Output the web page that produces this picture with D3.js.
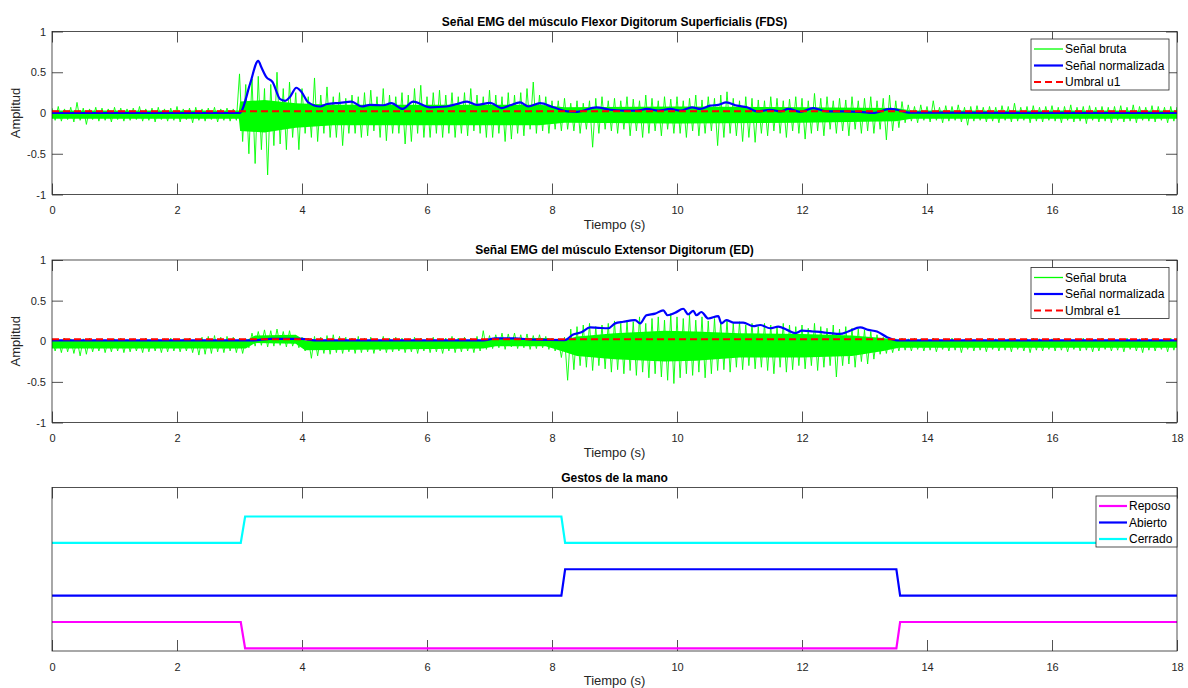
<!DOCTYPE html>
<html><head><meta charset="utf-8">
<script src="https://cdn.jsdelivr.net/npm/d3@7"></script>
<style>
body{margin:0;background:#fff}
svg{display:block}
text{font-family:"Liberation Sans",Arial,Helvetica,sans-serif}
</style>
</head><body>
<svg id="chart" width="1188" height="688"></svg>
<script>
// ---------- DATA ----------
const timeTicks = [0, 2, 4, 6, 8, 10, 12, 14, 16, 18];
const ampTicks = [-1, -0.5, 0, 0.5, 1];
const rawStep = 0.1;  // seconds between envelope readings of the raw trace

// FDS raw signal: local maxima / minima per 0.1 s window
const fdsRawHigh = [
  0.06,0.08,0.05,0.07,0.13,0.06,0.05,0.07,0.06,0.05,
  0.07,0.06,0.05,0.06,0.08,0.05,0.06,0.07,0.05,0.06,
  0.08,0.05,0.06,0.07,0.05,0.06,0.07,0.05,0.06,0.05,
  0.48,0.35,0.42,0.45,0.30,0.35,0.50,0.30,0.38,0.25,
  0.30,0.20,0.43,0.22,0.32,0.20,0.25,0.18,0.22,0.20,
  0.25,0.28,0.20,0.30,0.22,0.20,0.25,0.22,0.30,0.34,
  0.20,0.25,0.28,0.22,0.25,0.20,0.25,0.30,0.22,0.20,
  0.28,0.22,0.20,0.25,0.22,0.25,0.30,0.38,0.22,0.20,
  0.15,0.15,0.18,0.12,0.15,0.12,0.15,0.18,0.20,0.15,
  0.18,0.15,0.20,0.17,0.15,0.22,0.18,0.15,0.20,0.17,
  0.20,0.15,0.18,0.22,0.16,0.20,0.18,0.22,0.26,0.18,
  0.15,0.20,0.18,0.16,0.15,0.20,0.18,0.15,0.17,0.20,
  0.18,0.15,0.24,0.18,0.20,0.15,0.18,0.16,0.20,0.15,
  0.18,0.20,0.15,0.18,0.22,0.15,0.14,0.10,0.08,0.10,
  0.08,0.15,0.07,0.09,0.08,0.10,0.07,0.08,0.09,0.07,
  0.08,0.07,0.09,0.08,0.12,0.07,0.08,0.09,0.07,0.08,
  0.09,0.07,0.08,0.10,0.07,0.08,0.09,0.07,0.08,0.07,
  0.08,0.09,0.07,0.10,0.08,0.07,0.09,0.08,0.07,0.08,
  0.07
];
const fdsRawLow = [
  -0.09,-0.10,-0.08,-0.11,-0.09,-0.14,-0.08,-0.10,-0.09,-0.11,
  -0.08,-0.10,-0.09,-0.08,-0.10,-0.09,-0.11,-0.08,-0.10,-0.09,
  -0.11,-0.08,-0.12,-0.09,-0.10,-0.08,-0.11,-0.09,-0.10,-0.09,
  -0.35,-0.50,-0.62,-0.45,-0.76,-0.40,-0.38,-0.45,-0.30,-0.45,
  -0.25,-0.30,-0.35,-0.25,-0.30,-0.30,-0.40,-0.25,-0.25,-0.30,
  -0.28,-0.22,-0.30,-0.34,-0.25,-0.25,-0.38,-0.35,-0.25,-0.30,
  -0.30,-0.25,-0.30,-0.25,-0.30,-0.25,-0.28,-0.22,-0.25,-0.30,
  -0.30,-0.25,-0.35,-0.32,-0.25,-0.28,-0.20,-0.25,-0.22,-0.25,
  -0.20,-0.22,-0.20,-0.22,-0.25,-0.20,-0.42,-0.25,-0.20,-0.22,
  -0.25,-0.20,-0.28,-0.22,-0.30,-0.25,-0.22,-0.28,-0.20,-0.25,
  -0.25,-0.30,-0.22,-0.28,-0.25,-0.22,-0.40,-0.30,-0.25,-0.28,
  -0.35,-0.30,-0.36,-0.25,-0.28,-0.22,-0.25,-0.30,-0.22,-0.25,
  -0.32,-0.25,-0.22,-0.28,-0.20,-0.25,-0.22,-0.28,-0.20,-0.25,
  -0.22,-0.25,-0.20,-0.33,-0.22,-0.18,-0.12,-0.10,-0.12,-0.09,
  -0.11,-0.09,-0.12,-0.10,-0.09,-0.11,-0.15,-0.10,-0.09,-0.11,
  -0.10,-0.12,-0.09,-0.11,-0.10,-0.09,-0.12,-0.10,-0.11,-0.09,
  -0.10,-0.12,-0.09,-0.11,-0.10,-0.13,-0.09,-0.11,-0.10,-0.12,
  -0.09,-0.11,-0.10,-0.12,-0.09,-0.10,-0.11,-0.09,-0.12,-0.10,
  -0.10
];
// FDS dense core band of the raw trace
const fdsCoreTime = [0, 2.99, 3.01, 3.4, 3.9, 4.5, 6.0, 7.8, 8.2, 10.0, 12.0, 13.5, 13.75, 18];
const fdsCoreHigh = [0.03, 0.03, 0.14, 0.16, 0.12, 0.10, 0.10, 0.10, 0.07, 0.08, 0.07, 0.06, 0.03, 0.03];
const fdsCoreLow  = [-0.07, -0.07, -0.22, -0.24, -0.18, -0.15, -0.15, -0.15, -0.12, -0.13, -0.12, -0.10, -0.07, -0.07];
const fdsNormTime = [0,3.0,3.03,3.17,3.30,3.35,3.43,3.53,3.65,3.73,3.81,3.91,3.99,4.10,4.29,4.40,4.61,4.79,4.96,5.09,5.30,5.43,5.61,5.78,6.05,6.31,6.48,6.64,6.80,7.01,7.19,7.33,7.49,7.62,7.81,8.02,8.24,8.40,8.71,8.93,9.14,9.36,9.52,9.70,9.89,10.05,10.24,10.37,10.53,10.66,10.79,10.96,11.12,11.28,11.49,11.65,11.78,11.97,12.18,12.40,12.66,12.93,13.14,13.41,13.52,13.70,18];
const fdsNormValue = [0.0,0.0,0.02,0.36,0.64,0.56,0.44,0.38,0.17,0.15,0.20,0.31,0.26,0.13,0.08,0.11,0.125,0.14,0.08,0.10,0.095,0.12,0.05,0.14,0.07,0.08,0.11,0.14,0.10,0.125,0.06,0.095,0.13,0.08,0.12,0.07,0.02,0.015,0.07,0.04,0.03,0.03,0.05,0.03,0.05,0.03,0.07,0.05,0.09,0.10,0.13,0.09,0.07,0.02,0.04,0.02,0.05,0.015,0.06,0.02,0.02,0.015,0.0,0.05,0.04,0.005,0.0];
const fdsThreshold = 0.02;

// ED raw signal
const edRawHigh = [
  0.03,0.02,0.04,0.03,0.02,0.03,0.04,0.02,0.03,0.02,
  0.03,0.04,0.02,0.03,0.02,0.04,0.03,0.02,0.03,0.04,
  0.02,0.03,0.04,0.03,0.05,0.06,0.07,0.05,0.06,0.05,
  0.04,0.03,0.10,0.12,0.14,0.13,0.15,0.12,0.13,0.06,
  0.05,0.04,0.06,0.05,0.07,0.08,0.06,0.05,0.04,0.06,
  0.04,0.05,0.03,0.06,0.04,0.05,0.04,0.03,0.05,0.04,
  0.04,0.05,0.03,0.04,0.06,0.04,0.05,0.04,0.06,0.13,
  0.07,0.08,0.10,0.09,0.10,0.08,0.09,0.07,0.08,0.06,
  0.04,0.03,0.05,0.15,0.18,0.20,0.22,0.18,0.20,0.22,
  0.25,0.22,0.26,0.24,0.30,0.22,0.28,0.30,0.26,0.34,
  0.30,0.28,0.32,0.26,0.30,0.25,0.28,0.24,0.26,0.22,
  0.24,0.20,0.22,0.18,0.22,0.20,0.18,0.22,0.20,0.18,
  0.20,0.16,0.22,0.18,0.16,0.20,0.15,0.18,0.16,0.15,
  0.14,0.12,0.08,0.05,0.04,0.03,0.04,0.03,0.04,0.03,
  0.03,0.04,0.02,0.03,0.04,0.03,0.02,0.04,0.03,0.02,
  0.04,0.03,0.02,0.03,0.04,0.02,0.03,0.04,0.03,0.02,
  0.03,0.04,0.02,0.03,0.02,0.04,0.03,0.02,0.04,0.03,
  0.02,0.03,0.04,0.02,0.03,0.04,0.03,0.02,0.03,0.04,
  0.03
];
const edRawLow = [
  -0.12,-0.14,-0.13,-0.15,-0.18,-0.16,-0.13,-0.12,-0.14,-0.13,
  -0.12,-0.14,-0.13,-0.12,-0.14,-0.13,-0.12,-0.14,-0.13,-0.12,
  -0.13,-0.12,-0.14,-0.17,-0.16,-0.15,-0.13,-0.14,-0.12,-0.14,
  -0.15,-0.08,-0.06,-0.05,-0.07,-0.06,-0.05,-0.07,-0.06,-0.08,
  -0.12,-0.21,-0.18,-0.15,-0.16,-0.14,-0.15,-0.13,-0.15,-0.14,
  -0.13,-0.15,-0.12,-0.14,-0.13,-0.12,-0.14,-0.13,-0.15,-0.12,
  -0.14,-0.13,-0.15,-0.12,-0.14,-0.13,-0.12,-0.14,-0.12,-0.10,
  -0.09,-0.08,-0.10,-0.07,-0.09,-0.08,-0.10,-0.09,-0.08,-0.10,
  -0.12,-0.20,-0.48,-0.35,-0.30,-0.32,-0.36,-0.30,-0.34,-0.38,
  -0.35,-0.40,-0.36,-0.42,-0.38,-0.45,-0.40,-0.44,-0.48,-0.52,
  -0.45,-0.40,-0.42,-0.38,-0.45,-0.40,-0.36,-0.35,-0.38,-0.32,
  -0.35,-0.30,-0.34,-0.32,-0.36,-0.40,-0.32,-0.38,-0.35,-0.30,
  -0.34,-0.30,-0.36,-0.32,-0.30,-0.44,-0.30,-0.28,-0.32,-0.25,
  -0.28,-0.22,-0.16,-0.15,-0.14,-0.12,-0.11,-0.12,-0.10,-0.12,
  -0.11,-0.13,-0.10,-0.12,-0.11,-0.14,-0.10,-0.12,-0.11,-0.13,
  -0.10,-0.12,-0.11,-0.13,-0.10,-0.12,-0.14,-0.11,-0.12,-0.10,
  -0.12,-0.11,-0.13,-0.10,-0.12,-0.11,-0.13,-0.12,-0.10,-0.12,
  -0.11,-0.13,-0.10,-0.12,-0.14,-0.11,-0.12,-0.10,-0.13,-0.11,
  -0.11
];
// ED dense core band of the raw trace
const edCoreTime = [0, 3.1, 3.25, 3.9, 4.05, 6.9, 7.1, 7.9, 8.15, 8.4, 9.0, 9.8, 10.3, 11.0, 12.0, 12.8, 13.3, 13.55, 18];
const edCoreHigh = [0.01, 0.01, 0.07, 0.08, 0.01, 0.01, 0.04, 0.04, 0.01, 0.06, 0.10, 0.13, 0.12, 0.10, 0.09, 0.07, 0.04, 0.01, 0.01];
const edCoreLow  = [-0.09, -0.09, -0.02, -0.03, -0.11, -0.09, -0.06, -0.06, -0.12, -0.18, -0.22, -0.25, -0.24, -0.20, -0.20, -0.18, -0.12, -0.08, -0.08];
const edNormTime = [0,3.2,3.5,4.0,4.2,6.9,7.1,7.4,7.7,8.2,8.23,8.33,8.47,8.61,8.74,8.90,9.01,9.14,9.33,9.41,9.51,9.65,9.78,9.85,9.97,10.10,10.18,10.26,10.31,10.39,10.50,10.66,10.71,10.79,10.90,11.06,11.22,11.33,11.49,11.62,11.76,11.89,12.00,12.18,12.34,12.45,12.61,12.74,12.93,13.06,13.20,13.36,13.52,18];
const edNormValue = [0.01,0.01,0.03,0.03,0.01,0.01,0.035,0.035,0.02,0.015,0.02,0.08,0.11,0.17,0.165,0.16,0.22,0.24,0.26,0.22,0.32,0.34,0.38,0.32,0.35,0.40,0.33,0.375,0.32,0.36,0.28,0.31,0.22,0.26,0.23,0.23,0.185,0.20,0.16,0.18,0.14,0.10,0.13,0.12,0.11,0.10,0.09,0.12,0.17,0.14,0.12,0.05,0.01,0.01];
const edThreshold = 0.025;

// Hand gestures
const gestureTime = [0, 3.02, 3.09, 8.15, 8.21, 13.51, 13.57, 18];
const reposo  = [1, 1, 0, 0, 0, 0, 1, 1];
const abierto = [2, 2, 2, 2, 3, 3, 2, 2];
const cerrado = [4, 4, 5, 5, 4, 4, 4, 4];

// ---------- DRAWING ----------
const svg = d3.select("#chart");
const L = 52, R = 1177;
const x = d3.scaleLinear().domain([0, 18]).range([L, R]);
const AX = "#262626";
const TICK = 11;
const defs = svg.append("defs");

function frame(id, top, bottom, y, showY) {
  defs.append("clipPath").attr("id", id)
    .append("rect").attr("x", L).attr("y", top).attr("width", R - L).attr("height", bottom - top);
  const g = svg.append("g");
  const fmt = d => String(d);
  const xb = g.append("g").attr("transform", `translate(0,${bottom})`)
    .call(d3.axisBottom(x).tickValues(timeTicks).tickSize(-TICK).tickPadding(12).tickFormat(fmt));
  const xt = g.append("g").attr("transform", `translate(0,${top})`)
    .call(d3.axisTop(x).tickValues(timeTicks).tickSize(-TICK).tickFormat(""));
  const axes = [xb, xt];
  if (showY) {
    const yl = g.append("g").attr("transform", `translate(${L},0)`)
      .call(d3.axisLeft(y).tickValues(ampTicks).tickSize(-TICK).tickPadding(6).tickFormat(fmt));
    const yr = g.append("g").attr("transform", `translate(${R},0)`)
      .call(d3.axisRight(y).tickValues(ampTicks).tickSize(-TICK).tickFormat(""));
    axes.push(yl, yr);
  }
  axes.forEach(a => {
    a.select(".domain").remove();
    a.selectAll(".tick line").attr("stroke", AX).attr("stroke-width", 0.8);
    a.selectAll(".tick text").attr("fill", AX).attr("font-size", 11)
      .attr("font-family", '"Liberation Sans",Arial,sans-serif');
  });
  return g;
}

function box(top, bottom) {
  svg.append("rect").attr("x", L).attr("y", top).attr("width", R - L).attr("height", bottom - top)
    .attr("fill", "none").attr("stroke", AX).attr("stroke-width", 0.8);
  svg.append("text").attr("x", (L + R) / 2).attr("y", bottom + 34)
    .attr("text-anchor", "middle").attr("font-size", 13).attr("fill", AX).text("Tiempo (s)");
}

function title(txt, top) {
  svg.append("text").attr("x", (L + R) / 2).attr("y", top - 6)
    .attr("text-anchor", "middle").attr("font-size", 12).attr("font-weight", "bold")
    .attr("fill", "#000").text(txt);
}

function legend(x0, y0, w, items) {
  const rowH = 16.5;
  const g = svg.append("g");
  g.append("rect").attr("x", x0).attr("y", y0).attr("width", w).attr("height", items.length * rowH + 1.5)
    .attr("fill", "#fff").attr("stroke", AX).attr("stroke-width", 0.8);
  items.forEach((it, i) => {
    const cy = y0 + 10 + i * rowH;
    g.append("line").attr("x1", x0 + 3).attr("x2", x0 + it.len).attr("y1", cy).attr("y2", cy)
      .attr("stroke", it.color).attr("stroke-width", it.width)
      .attr("stroke-dasharray", it.dash || null);
    g.append("text").attr("x", x0 + it.len + 2).attr("y", cy + 4.2)
      .attr("font-size", 12).attr("fill", "#000").text(it.label);
  });
}

function emgPanel(cfg) {
  const y = d3.scaleLinear().domain([-1, 1]).range([cfg.bottom, cfg.top]);
  frame(cfg.id, cfg.top, cfg.bottom, y, true);
  const plot = svg.append("g").attr("clip-path", `url(#${cfg.id})`);
  // dense core band of the raw trace
  const core = cfg.coreT.map((t, i) => [t, cfg.coreHi[i], cfg.coreLo[i]]);
  plot.append("path").datum(core)
    .attr("d", d3.area().x(d => x(d[0])).y0(d => y(d[2])).y1(d => y(d[1])))
    .attr("fill", "#00ff00").attr("stroke", "none");
  // raw trace: alternate window maxima and minima
  const rawPts = [];
  cfg.hi.forEach((h, i) => {
    rawPts.push([i * rawStep, h]);
    rawPts.push([i * rawStep + rawStep / 2, cfg.lo[i]]);
  });
  plot.append("path").datum(rawPts)
    .attr("d", d3.line().x(d => x(d[0])).y(d => y(d[1])))
    .attr("fill", "none").attr("stroke", "#00ff00").attr("stroke-width", 0.9);
  const norm = cfg.normT.map((t, i) => [t, cfg.normV[i]]);
  plot.append("path").datum(norm)
    .attr("d", d3.line().curve(d3.curveMonotoneX).x(d => x(d[0])).y(d => y(d[1])))
    .attr("fill", "none").attr("stroke", "#0000ff").attr("stroke-width", 2.2);
  plot.append("line").attr("x1", x(0)).attr("x2", x(18))
    .attr("y1", y(cfg.thr)).attr("y2", y(cfg.thr))
    .attr("stroke", "#ff0000").attr("stroke-width", 2).attr("stroke-dasharray", "7,4");
  box(cfg.top, cfg.bottom);
  title(cfg.title, cfg.top);
  svg.append("text").attr("transform", `translate(20,${(cfg.top + cfg.bottom) / 2}) rotate(-90)`)
    .attr("text-anchor", "middle").attr("font-size", 13).attr("fill", AX).text("Amplitud");
  legend(1031, cfg.top + 7.5, 138, [
    {label: "Señal bruta", color: "#00ff00", width: 1.3, len: 32},
    {label: "Señal normalizada", color: "#0000ff", width: 2.2, len: 32},
    {label: cfg.thrLabel, color: "#ff0000", width: 2, dash: "7,4", len: 32}
  ]);
}

emgPanel({id: "c1", top: 31.5, bottom: 194.5, hi: fdsRawHigh, lo: fdsRawLow,
  coreT: fdsCoreTime, coreHi: fdsCoreHigh, coreLo: fdsCoreLow,
  normT: fdsNormTime, normV: fdsNormValue, thr: fdsThreshold, thrLabel: "Umbral u1",
  title: "Señal EMG del músculo Flexor Digitorum Superficialis (FDS)"});
emgPanel({id: "c2", top: 260, bottom: 422.5, hi: edRawHigh, lo: edRawLow,
  coreT: edCoreTime, coreHi: edCoreHigh, coreLo: edCoreLow,
  normT: edNormTime, normV: edNormValue, thr: edThreshold, thrLabel: "Umbral e1",
  title: "Señal EMG del músculo Extensor Digitorum (ED)"});

// Gestures panel
(function () {
  const top = 487.5, bottom = 651;
  const y = d3.scaleLinear().domain([-0.1, 6.1]).range([bottom, top]);
  frame("c3", top, bottom, y, false);
  const plot = svg.append("g").attr("clip-path", "url(#c3)");
  const line = d3.line().x(d => x(d[0])).y(d => y(d[1]));
  [[reposo, "#ff00ff"], [abierto, "#0000ff"], [cerrado, "#00ffff"]].forEach(([vals, col]) => {
    plot.append("path").datum(gestureTime.map((t, i) => [t, vals[i]]))
      .attr("d", line).attr("fill", "none").attr("stroke", col).attr("stroke-width", 2.2);
  });
  box(top, bottom);
  title("Gestos de la mano", top);
  legend(1096, 496, 81, [
    {label: "Reposo", color: "#ff00ff", width: 2.2, len: 31},
    {label: "Abierto", color: "#0000ff", width: 2.2, len: 31},
    {label: "Cerrado", color: "#00ffff", width: 2.2, len: 31}
  ]);
})();
</script>
</body></html>
